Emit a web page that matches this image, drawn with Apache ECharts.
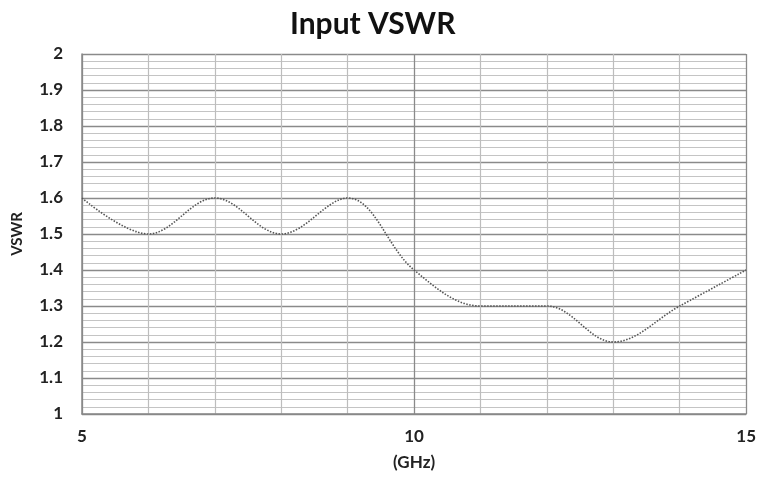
<!DOCTYPE html>
<html>
<head>
<meta charset="utf-8">
<script src="https://cdn.jsdelivr.net/npm/echarts@6/dist/echarts.min.js"></script>
<style>html,body{margin:0;padding:0;background:#fff}#c{width:759px;height:479px}</style>
</head>
<body>
<div id="c"></div>
<script>
const freqGHz = [5, 6, 7, 8, 9, 10, 11, 12, 13, 14, 15];
const vswr = [1.6, 1.5, 1.6, 1.5, 1.6, 1.4, 1.3, 1.3, 1.2, 1.3, 1.4];
const titleText = 'Input VSWR';
const xName = '(GHz)';
const yName = 'VSWR';

const chart = echarts.init(document.getElementById('c'));
chart.setOption({
  animation: false,
  backgroundColor: '#fff',
  title: {
    text: titleText, left: 285, top: 4,
    textStyle: { fontFamily: 'Lato', fontWeight: 'bold', fontSize: 30, color: '#111' }
  },
  grid: { left: 82, right: 10, top: 54, bottom: 65 },
  xAxis: {
    type: 'value', min: 5, max: 15, interval: 5,
    name: xName, nameLocation: 'middle', nameGap: 40,
    nameTextStyle: { fontFamily: 'Lato', fontWeight: 'bold', fontSize: 17, color: '#222' },
    axisLine: { show: true, lineStyle: { color: '#888', width: 1.5 } },
    axisTick: { show: false },
    axisLabel: { margin: 14, fontFamily: 'Lato', fontWeight: 'bold', fontSize: 17, color: '#222' },
    splitLine: { show: true, lineStyle: { color: '#8a8a8a', width: 1.3 } },
    minorTick: { show: false, splitNumber: 5 },
    minorSplitLine: { show: true, lineStyle: { color: '#bdbdbd', width: 1.2 } }
  },
  yAxis: {
    type: 'value', min: 1, max: 2, interval: 0.1,
    name: yName, nameLocation: 'middle', nameGap: 57, nameRotate: 90,
    nameTextStyle: { fontFamily: 'Lato', fontWeight: 'bold', fontSize: 15, color: '#222' },
    axisLine: { show: true, lineStyle: { color: '#888', width: 1.5 } },
    axisTick: { show: false },
    axisLabel: { margin: 19, fontFamily: 'Lato', fontWeight: 'bold', fontSize: 17, color: '#222',
      formatter: v => String(Math.round(v * 10) / 10) },
    splitLine: { show: true, lineStyle: { color: '#8a8a8a', width: 1.3 } },
    minorTick: { show: false, splitNumber: 5 },
    minorSplitLine: { show: true, lineStyle: { color: '#c4c4c4', width: 1.2 } }
  },
  series: [{
    type: 'line',
    data: freqGHz.map((f, i) => [f, vswr[i]]),
    smooth: 0.36,
    symbol: 'none',
    lineStyle: { color: '#555', width: 1.6, type: [1.5, 1.5] }
  }]
});
</script>
</body>
</html>
